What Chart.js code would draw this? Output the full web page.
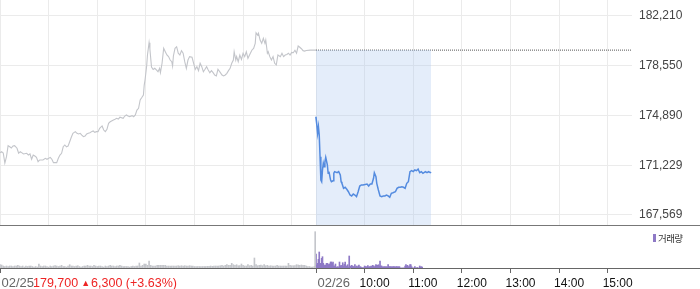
<!DOCTYPE html>
<html>
<head>
<meta charset="utf-8">
<script src="https://cdn.jsdelivr.net/npm/chart.js@4"></script>
<style>
  html,body{margin:0;padding:0;background:#fff;}
  #wrap{position:relative;width:700px;height:289px;overflow:hidden;background:#fff;font-family:'Liberation Sans',Arial,sans-serif;}
  #main{position:absolute;left:0;top:0;}
  #sep{position:absolute;left:0;top:225px;width:700px;height:1px;background:#777;}
  #vol{position:absolute;left:0;top:226px;}
  #chg{position:absolute;left:33px;top:276px;font-size:12.5px;line-height:15px;color:#ee2424;white-space:nowrap;}
  #chg .tri{font-size:9px;margin:0 1px 0 3px;position:relative;top:-1px;}
  #leg{position:absolute;left:653px;top:231px;height:14px;white-space:nowrap;}
  #leg .sw{position:absolute;left:0;top:3px;width:3px;height:8px;background:#8e79c6;}
  #leg .tx{position:absolute;left:5px;top:0;font-family:'Noto Sans CJK KR',sans-serif;font-size:9.5px;line-height:14px;letter-spacing:-0.6px;color:#333;}
</style>
</head>
<body>
<div id="wrap">
  <canvas id="main" width="700" height="225"></canvas>
  <div id="sep"></div>
  <canvas id="vol" width="700" height="63"></canvas>
  <div id="chg"></div>
  <div id="leg"><span class="sw"></span><span class="tx">거래량</span></div>
</div>
<script>
// ---------------- data ----------------
const SESSION = 390;            // minutes per session (09:00-15:30)
const XMAX = 2 * SESSION;       // two sessions on the axis
const prevClose = 179700;       // 02/25 close
const dayChange = 6300;
const dayChangePct = 3.63;
const nowMin = 532;             // last minute of 02/26 data

const yTicks = [167569, 171229, 174890, 178550, 182210];
const yMin = 166833, yMax = 183387;

const gridTicks = [0, 60, 120, 180, 240, 300, 360, 390, 450, 510, 570, 630, 690, 750];
const xLabelTicks = [0, 390, 450, 510, 570, 630, 690, 750];
const xLabels = ['02/25', '02/26', '10:00', '11:00', '12:00', '13:00', '14:00', '15:00'];

// 02/25 price (minutes from 09:00)
const day1Min = [
  0,2,4,6,8,10,12,14,16,18,
  21,23,25,29,33,35,37,39,41,43,
  45,47,49,53,56,58,62,64,66,70,
  72,74,76,78,80,82,84,86,88,90,
  93,95,97,99,101,103,105,107,109,111,
  113,115,117,119,121,123,126,128,130,132,
  134,136,140,142,144,146,148,152,154,156,
  158,160,163,165,167,169,171,173,175,177,
  178,179,181,182,184,185,187,189,191,193,
  195,197,198,200,202,204,206,208,210,212,
  213,214,216,218,220,222,224,226,228,230,
  232,234,237,239,241,243,245,247,249,251,
  253,255,257,259,261,263,265,267,269,272,
  274,276,278,280,282,284,286,288,289,291,
  292,294,296,298,300,302,304,306,309,311,
  313,315,316,318,319,321,323,325,327,328,
  330,331,333,335,337,339,341,343,346,348,
  350,352,354,356,358,360,362,364,366,368,
  370,372,374,376,378,383,390
];
const day1Price = [
  172150,172230,172130,171390,171860,172670,172590,172500,172650,172670,
  172480,172110,172230,172060,172110,171980,172060,171670,171980,171910,
  171810,171490,171620,171620,171740,171670,171810,171670,171420,171420,
  171740,171980,172110,172590,172720,172590,172640,172960,173290,173580,
  173700,173580,173530,173580,173450,173330,173380,173530,173580,173620,
  173700,173750,173650,173700,173700,173950,174120,173820,173700,173870,
  174320,174430,174560,174610,174680,174630,174760,174680,174850,174930,
  174850,174800,174880,174800,174930,175290,175420,176030,176210,176400,
  177130,177500,178530,179340,180250,179780,178460,178270,178360,178240,
  178110,178360,178040,178730,179830,179580,179340,179220,178970,178850,
  178530,179270,179830,179950,179470,179340,179660,179470,178850,178360,
  178970,179220,179170,178730,178290,178480,178190,178730,178480,178110,
  178290,178480,178240,178040,178190,178040,177870,177800,178290,178040,
  177870,177800,177870,177990,178190,178360,178730,178970,179580,178970,
  179220,178850,179340,179020,179470,179220,179580,179100,179470,179710,
  179830,180200,180980,180810,180940,180440,180200,180570,180200,180440,
  179470,179580,179220,178970,179220,178730,178610,179340,179220,179470,
  179220,179340,179380,179470,179340,179530,179510,179690,179470,180000,
  179910,179800,179660,179630,179670,179700,179700
];

// 02/26 price (minutes on the same axis, 390 = 09:00)
const day2Min = [
  390,392,393,394,395,396,397,398,399,400,
  401,402,404,405,406,408,409,411,412,413,
  416,418,420,421,422,424,426,428,430,432,
  434,436,438,440,442,444,446,448,453,455,
  457,459,461,462,464,465,467,469,471,473,
  475,477,479,481,483,485,488,490,492,494,
  496,498,500,502,504,506,508,510,512,514,
  516,518,520,522,525,527,529,531,532
];
const day2Price = [
  174800,173580,174070,173460,171860,170140,170020,170880,171370,171120,
  171490,171810,171250,170640,170750,170140,170020,170090,170640,170760,
  170680,170760,170510,170020,169900,169530,169610,169460,169280,169040,
  168970,169110,169040,168920,169280,169700,169780,169780,169850,169700,
  169850,169850,170270,170680,170390,169900,169410,168970,168920,168970,
  168970,169040,168970,168870,169170,169210,169280,169530,169610,169610,
  169650,169610,169530,169900,170020,170760,170830,170760,170880,170830,
  170950,170680,170760,170640,170760,170680,170760,170680,170720
];

// volume (thousand shares). 02/25: one value per 2 minutes from 09:00, then closing auction
const volDay1 = [
  3.5,3,2,1.5,2,1.5,2,2,1.5,2,2,2.7,2,1.5,2,1,2,1.5,2,2,1.5,1,1.5,1,4,
  2,1.5,2,2,1.5,1,2,1.5,2,2.3,2,1.5,2,2.7,1.5,1.5,1,2,3.3,
  2,2,1.5,2,2.3,1.5,1,1.5,2,2,2.7,2,2,1.5,2.7,
  2,1.5,2,2,1.5,1,2,1.5,2,2.7,2,2,1.5,2,2,2.7,2,1.5,1.5,
  1.5,1.5,1,1.5,2,1.5,2,2,5,2,2.7,4,4,2.7,7,2.7,2,2,2,
  2.7,2.7,2.7,2.7,2.7,2.7,2,2,2,2,2,2,2,
  2.3,2,2.3,2,2.3,2,2,2.3,2,2,1.5,1.5,1.5,1.5,1.5,1.5,1.5,1.5,
  1.7,1.7,2,1.7,2,2,2,2,2.3,2.7,2,2.7,3.3,2.7,2.7,4.7,3.3,2.7,3.3,2.3,2.3,4,
  2.7,2,2,3.3,2.3,2.7,2,10,3.3,2.3,2.7,3,2.3,3.3,2.3,2.7,2,
  2.3,2,2,2,2.7,2,2,2,2,2,2,4.7,2.7,2.3,2.3,2.3,3.3,3,2.7,3,2.7,2.7,2,1.5,1.5,1,1,1.5
];
const volDay1Close = 36.3;
// 02/26: one value per minute from 09:00
const volDay2 = [
  14,3,4.7,8.7,16,4.7,4.7,9.7,11.3,4.7,3,2,3,4.7,4.7,3,4,4,6,6,
  4.7,6,2,2,4,1,0.5,1.3,0.5,6,2,2.7,1.5,5.3,2,3.7,6,2,2,3.3,
  1,12,2,1.5,2.7,2,1.5,1,3.3,1,2,1,2,3,1,1.3,0.5,0,0.5,0,
  2,1.3,1.3,1,2.3,1,1.3,1.3,2,1.5,2.7,2,1,2,3.3,2.7,2.7,3.3,2,7,
  2,2,1,1.3,1,1.3,1,1.3,1,3.3,1.3,1.3,1.3,1.3,1,1.3,1.3,1.3,1,1.3,
  1.3,1,1.3,1.3,0,0,0,0,0,0,2,3.3,2,2.7,1.3,1.3,3.3,3.3,1.3,0,
  0,0,1.3,0,0,0.5,0,0,2,1,1.3,1
];
const volMax = 42;

// ---------------- build ----------------
Chart.defaults.font.family = "'Liberation Sans', Arial, sans-serif";
const fmt = v => Number(v).toLocaleString('en-US');

document.getElementById('chg').innerHTML =
  fmt(prevClose) + '<span class="tri">&#9650;</span>' + fmt(dayChange) + ' (+' + dayChangePct.toFixed(2) + '%)';

const pts = (xs, ys) => xs.map((x, i) => ({x: x, y: ys[i]}));

new Chart(document.getElementById('main'), {
  type: 'line',
  data: {
    datasets: [
      { // elapsed part of today's session
        data: [{x: SESSION, y: prevClose}, {x: nowMin, y: prevClose}],
        fill: 'start', backgroundColor: 'rgba(170,198,238,0.32)', borderWidth: 0, pointRadius: 0
      },
      {
        data: pts(day1Min, day1Price),
        borderColor: '#c3c5ca', borderWidth: 1.1, pointRadius: 0, fill: false
      },
      {
        data: pts(day2Min, day2Price),
        borderColor: '#2b6fd8', borderWidth: 1.5, pointRadius: 0, fill: false
      },
      { // previous close reference
        data: [{x: SESSION, y: prevClose}, {x: XMAX, y: prevClose}],
        borderColor: '#555', borderWidth: 1, borderDash: [1, 1], pointRadius: 0, fill: false
      }
    ]
  },
  options: {
    responsive: false, animation: false, devicePixelRatio: 1,
    layout: {padding: 0},
    plugins: {legend: {display: false}, tooltip: {enabled: false}},
    elements: {line: {tension: 0}, point: {radius: 0}},
    scales: {
      x: {
        type: 'linear', min: 0, max: XMAX, offset: false,
        ticks: {display: false},
        grid: {color: '#ebebeb', drawTicks: false, offset: false},
        border: {display: false},
        afterBuildTicks: s => { s.ticks = gridTicks.map(v => ({value: v})); },
        afterFit: s => { s.height = 0; }
      },
      y: {
        position: 'right', min: yMin, max: yMax,
        grid: {color: '#ebebeb', drawTicks: false},
        border: {display: false},
        ticks: {padding: 7, color: '#444', font: {size: 12}, callback: v => fmt(v)},
        afterBuildTicks: s => { s.ticks = yTicks.map(v => ({value: v})); },
        afterFit: s => { s.width = 68; s.paddingTop = 0; s.paddingBottom = 0; }
      }
    }
  }
});

const vol1 = volDay1.map((v, i) => ({x: 2 * i, y: v}));
vol1.push({x: SESSION - 1, y: volDay1Close});
const vol2 = volDay2.map((v, i) => ({x: SESSION + i, y: v}));

new Chart(document.getElementById('vol'), {
  type: 'bar',
  data: {
    datasets: [
      {data: vol1, backgroundColor: '#c4c6cb', barThickness: 1, grouped: false},
      {data: vol2, backgroundColor: '#8e79c6', barThickness: 1, grouped: false}
    ]
  },
  options: {
    responsive: false, animation: false, devicePixelRatio: 1,
    layout: {padding: 0},
    plugins: {legend: {display: false}, tooltip: {enabled: false}},
    scales: {
      x: {
        type: 'linear', min: 0, max: XMAX * 700 / 632, offset: false,
        grid: {drawOnChartArea: false, drawTicks: true, tickLength: 5, color: '#666', offset: false},
        border: {color: '#666', width: 1},
        ticks: {
          align: 'start', labelOffset: -5, padding: 3, autoSkip: false, maxRotation: 0,
          color: c => (c.index < 2 ? '#666' : '#111'),
          font: c => ({size: c.index < 2 ? 13 : 12}),
          callback: (v, i) => (i < 2 ? '\u2002' : '') + xLabels[i]
        },
        afterBuildTicks: s => { s.ticks = xLabelTicks.map(v => ({value: v})); },
        afterFit: s => { s.height = 21; s.paddingLeft = 0; s.paddingRight = 0; }
      },
      y: {display: false, min: 0, max: volMax}
    }
  }
});
</script>
</body>
</html>
